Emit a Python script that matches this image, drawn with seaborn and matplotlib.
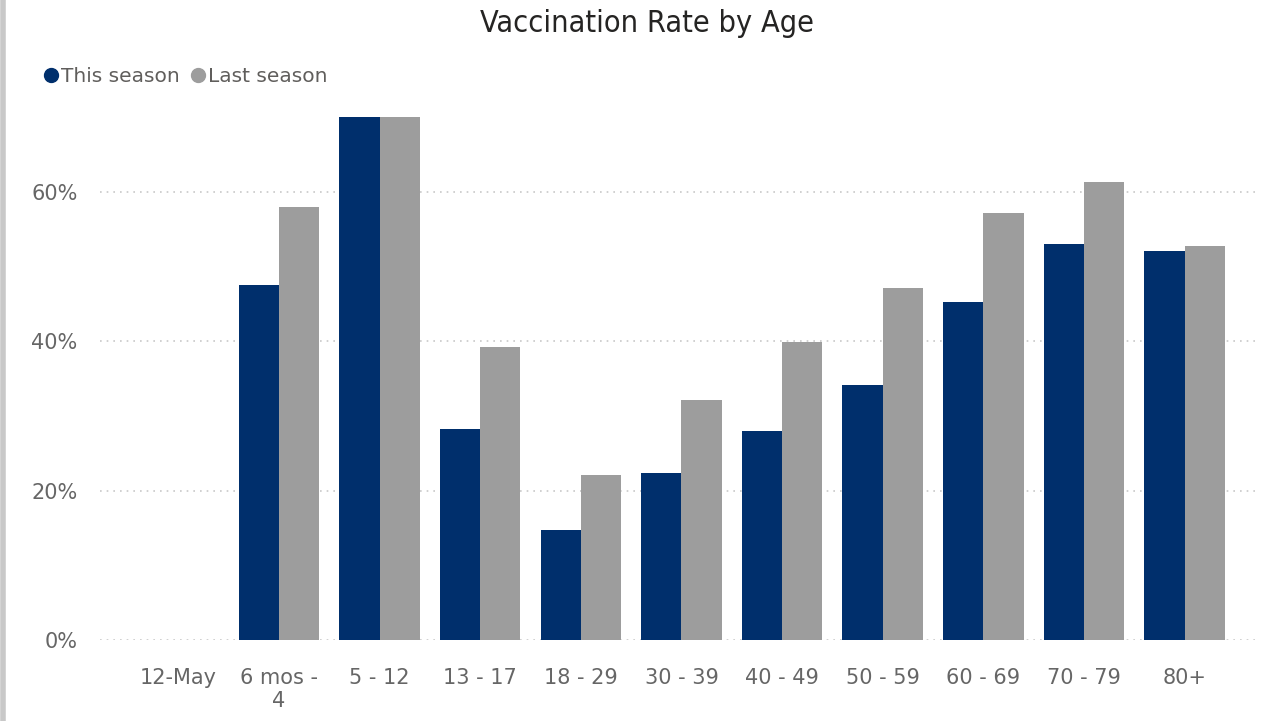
import pandas as pd
import numpy as np
import seaborn as sns
import matplotlib.pyplot as plt
from matplotlib.lines import Line2D
from matplotlib.ticker import PercentFormatter

# data
age_groups = ["12-May", "6 mos -\n4", "5 - 12", "13 - 17", "18 - 29", "30 - 39",
              "40 - 49", "50 - 59", "60 - 69", "70 - 79", "80+"]
this_season = [np.nan, 47.5, 70.0, 28.3, 14.7, 22.4, 28.0, 34.2, 45.3, 53.0, 52.1]
last_season = [np.nan, 58.0, 70.0, 39.2, 22.1, 32.1, 39.9, 47.1, 57.2, 61.3, 52.8]
series_names = ["This season", "Last season"]
colors = ["#002F6C", "#9D9D9D"]

df = pd.DataFrame({
    "Age": age_groups * 2,
    "Rate": this_season + last_season,
    "Season": [series_names[0]] * len(age_groups) + [series_names[1]] * len(age_groups),
})

sns.set_style("white")
fig = plt.figure(figsize=(12.81, 7.21), dpi=100)
ax = fig.add_axes([0.078, 0.1123, 0.9056, 0.7254])

sns.barplot(data=df, x="Age", y="Rate", hue="Season", order=age_groups,
            hue_order=series_names, palette=colors, width=0.8,
            saturation=1, linewidth=0, ax=ax, legend=False)

ax.set_ylim(0, 70)
ax.set_xlim(-0.78, 10.75)
ax.set_yticks([0, 20, 40, 60])
ax.yaxis.set_major_formatter(PercentFormatter(decimals=0))
ax.grid(axis="y", color="#C8C8C8", linestyle=(0, (1, 3)), linewidth=1.2)
ax.set_axisbelow(True)
for s in ax.spines.values():
    s.set_visible(False)
ax.tick_params(axis="both", length=0, labelsize=15, colors="#666666")
ax.tick_params(axis="y", pad=16)
ax.tick_params(axis="x", pad=20)
ax.set_xlabel("")
ax.set_ylabel("")

fig.text(0.505, 0.968, "Vaccination Rate by Age", ha="center", va="center",
         fontsize=22, color="#252423", fontstretch="condensed")

handles = [Line2D([0], [0], marker="o", linestyle="", markersize=10,
                  markerfacecolor=c, markeredgecolor=c) for c in colors]
fig.legend(handles, series_names, loc="center left", bbox_to_anchor=(0.018, 0.894),
           frameon=False, ncol=2, fontsize=14.5, handletextpad=0.0,
           columnspacing=0.4, labelcolor="#605E5C", handlelength=1.0)

# thin grey frame on the left edge, as in the screenshot
fig.add_artist(Line2D([0.002, 0.002], [0, 1], color="#C8C8C8", linewidth=4,
                      transform=fig.transFigure))

fig.savefig("out.png", dpi=100)
